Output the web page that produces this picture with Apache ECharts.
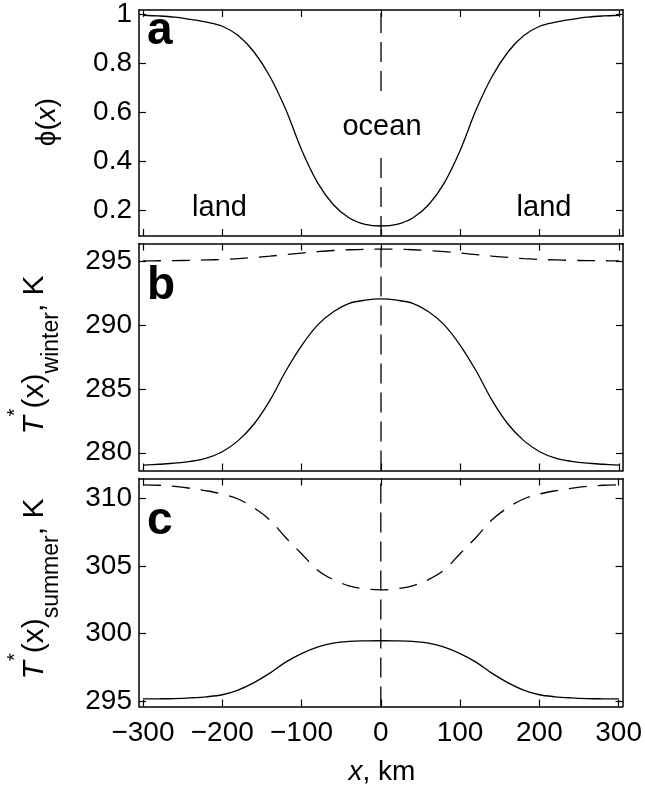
<!DOCTYPE html>
<html>
<head>
<meta charset="utf-8">
<script src="https://cdn.jsdelivr.net/npm/echarts@6/dist/echarts.min.js"></script>
<style>html,body{margin:0;padding:0;background:#fff}#c{width:645px;height:789px}</style>
</head>
<body>
<div id="c"></div>
<script>
// ---- data ----
var xKm = [-300,-280,-260,-240,-220,-200,-180,-160,-140,-120,-100,-80,-60,-40,-20,0,20,40,60,80,100,120,140,160,180,200,220,240,260,280,300];
var phi = [0.995,0.992,0.987,0.978,0.967,0.950,0.912,0.845,0.745,0.610,0.445,0.312,0.222,0.168,0.142,0.135,0.142,0.168,0.222,0.312,0.445,0.610,0.745,0.845,0.912,0.950,0.967,0.978,0.987,0.992,0.995];
var winterSolid = [279.03,279.10,279.18,279.33,279.58,280.08,280.95,282.25,284.10,286.40,288.40,290.00,291.05,291.70,291.95,292.05,291.95,291.70,291.05,290.00,288.40,286.40,284.10,282.25,280.95,280.08,279.58,279.33,279.18,279.10,279.03];
var winterDashed = [295.03,295.04,295.05,295.07,295.10,295.14,295.20,295.30,295.40,295.52,295.64,295.75,295.84,295.90,295.94,295.95,295.94,295.90,295.84,295.75,295.64,295.52,295.40,295.30,295.20,295.14,295.10,295.07,295.05,295.04,295.03];
var summerSolid = [295.14,295.15,295.17,295.22,295.30,295.45,295.80,296.35,297.05,297.87,298.50,298.98,299.27,299.40,299.44,299.45,299.44,299.40,299.27,298.98,298.50,297.87,297.05,296.35,295.80,295.45,295.30,295.22,295.17,295.15,295.14];
var summerDashed = [311.00,310.97,310.88,310.74,310.56,310.32,309.95,309.30,308.40,307.10,305.90,304.70,303.98,303.52,303.30,303.22,303.30,303.52,303.98,304.70,305.90,307.10,308.40,309.30,309.95,310.32,310.56,310.74,310.88,310.97,311.00];
var xTicks = [-300,-200,-100,0,100,200,300];
var yTicksA = [0.2,0.4,0.6,0.8,1];
var yTicksB = [280,285,290,295];
var yTicksC = [295,300,305,310];
var xRange = [-305,305];
var yRangeA = [0.0943,1.0167];
var yRangeB = [278.61,296.39];
var yRangeC = [294.58,311.47];

// ---- build ----
var FONT = 'Liberation Sans';
var grids = [
  {left:139, width:484, top:9, height:227},
  {left:139, width:484, top:243.5, height:227},
  {left:139, width:484, top:478.5, height:228}
];
function fmt(v){ return String(v).replace('-', '\u2212'); }
function xAx(g, pos, labels){
  return {type:'value', gridIndex:g, position:pos, min:xRange[0], max:xRange[1],
    axisLine:{show:true, onZero:false, lineStyle:{color:'#000', width:1.5}},
    axisTick:{show:true, inside:true, length:7, customValues:xTicks, lineStyle:{color:'#000', width:1.2}},
    axisLabel:{show:labels, customValues:xTicks, formatter:fmt, fontSize:28, color:'#000', fontFamily:FONT, margin:13},
    splitLine:{show:false}};
}
function yAx(g, pos, rng, ticks, labels){
  return {type:'value', gridIndex:g, position:pos, min:rng[0], max:rng[1],
    axisLine:{show:true, onZero:false, lineStyle:{color:'#000', width:1.5}},
    axisTick:{show:true, inside:true, length:7, customValues:ticks, lineStyle:{color:'#000', width:1.2}},
    axisLabel:{show:labels, customValues:ticks, formatter:function(v){return fmt(+v.toFixed(2));}, fontSize:28, color:'#000', fontFamily:FONT, margin:7},
    splitLine:{show:false}};
}
function pairs(ys){ return xKm.map(function(x,i){return [x, ys[i]];}); }
function line(xi, yi, ys, dashed){
  return {type:'line', xAxisIndex:xi, yAxisIndex:yi, data:pairs(ys), showSymbol:false, symbol:'none',
    smooth:0.35, silent:true,
    lineStyle:{color:'#000', width:1.3, type: dashed ? [18,11] : 'solid'}};
}
function vline(xi, yi, rng){
  return {type:'line', xAxisIndex:xi, yAxisIndex:yi, data:[[0,rng[0]],[0,rng[1]]], showSymbol:false, symbol:'none', silent:true,
    lineStyle:{color:'#000', width:1.3, type:[20,9]}};
}
var rotLabel = function(x, y, text, rich){
  return {type:'text', x:x, y:y, rotation:Math.PI/2, z:100,
    style:{text:text, rich:rich, align:'center', verticalAlign:'middle', fill:'#000', font:'30px '+FONT}};
};
var richT = {
  t:{fontSize:30, fontStyle:'italic', fontFamily:FONT, lineHeight:58, verticalAlign:'middle'},
  n:{fontSize:30, fontFamily:FONT, lineHeight:58, verticalAlign:'middle'},
  sup:{fontSize:20, fontFamily:FONT, lineHeight:42, verticalAlign:'top'},
  sub:{fontSize:23, fontFamily:FONT, lineHeight:23, verticalAlign:'bottom'}
};

var option = {
  animation:false,
  backgroundColor:'#fff',
  grid:grids,
  xAxis:[xAx(0,'bottom',false), xAx(0,'top',false), xAx(1,'bottom',false), xAx(1,'top',false), xAx(2,'bottom',true), xAx(2,'top',false)],
  yAxis:[yAx(0,'left',yRangeA,yTicksA,true), yAx(0,'right',yRangeA,yTicksA,false),
         yAx(1,'left',yRangeB,yTicksB,true), yAx(1,'right',yRangeB,yTicksB,false),
         yAx(2,'left',yRangeC,yTicksC,true), yAx(2,'right',yRangeC,yTicksC,false)],
  series:[
    vline(0,0,yRangeA), line(0,0,phi,false),
    vline(2,2,yRangeB), line(2,2,winterSolid,false), line(2,2,winterDashed,true),
    vline(4,4,yRangeC), line(4,4,summerSolid,false), line(4,4,summerDashed,true)
  ],
  graphic:[
    {type:'text', x:147, y:31, z:100, style:{text:'a', font:'bold 46px '+FONT, fill:'#000', align:'left', verticalAlign:'middle'}},
    {type:'text', x:147, y:286, z:100, style:{text:'b', font:'bold 46px '+FONT, fill:'#000', align:'left', verticalAlign:'middle'}},
    {type:'text', x:147, y:521, z:100, style:{text:'c', font:'bold 46px '+FONT, fill:'#000', align:'left', verticalAlign:'middle'}},
    {type:'text', x:219.5, y:208, z:100, style:{text:'land', font:'29px '+FONT, fill:'#000', align:'center', verticalAlign:'middle'}},
    {type:'text', x:544, y:208, z:100, style:{text:'land', font:'29px '+FONT, fill:'#000', align:'center', verticalAlign:'middle'}},
    {type:'text', x:382, y:127, z:100, style:{text:'ocean', font:'29px '+FONT, fill:'#000', align:'center', verticalAlign:'middle', backgroundColor:'#fff', padding:[22,2,8,2]}},
    rotLabel(47, 122, '{n|\u03D5(}{i|x}{n|)}', {n:{fontSize:28, fontFamily:FONT}, i:{fontSize:28, fontStyle:'italic', fontFamily:FONT}}),
    rotLabel(34.5, 355, '{t|T}{sup|*}{n|(x)}{sub|winter}{n|, K}', richT),
    rotLabel(34.5, 589, '{t|T}{sup|*}{n|(x)}{sub|summer}{n|, K}', richT),
    {type:'text', x:382, y:772, z:100, style:{text:'{i|x}{n|, km}', align:'center', verticalAlign:'middle', fill:'#000',
      rich:{i:{fontSize:28, fontStyle:'italic', fontFamily:FONT}, n:{fontSize:28, fontFamily:FONT}}}}
  ]
};
var chart = echarts.init(document.getElementById('c'), null, {renderer:'canvas'});
chart.setOption(option);
</script>
</body>
</html>
